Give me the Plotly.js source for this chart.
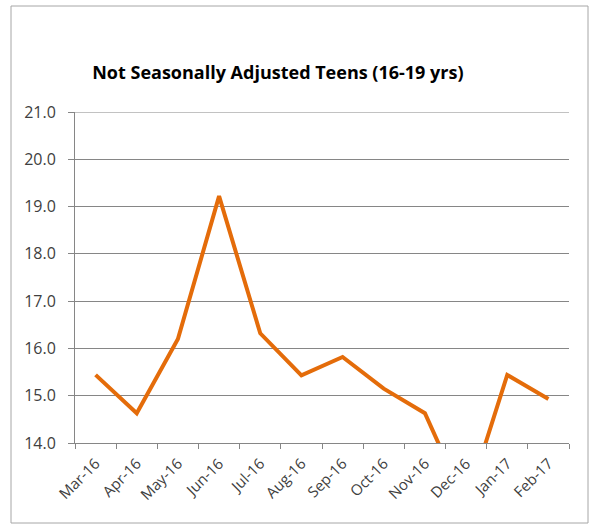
<!DOCTYPE html>
<html>
<head>
<meta charset="utf-8">
<script src="https://cdn.plot.ly/plotly-3.0.1.min.js"></script>
<style>html,body{margin:0;padding:0;background:#fff;}#chart{width:590px;height:525px;}</style>
</head>
<body>
<div id="chart"></div>
<script>
var months = ["Mar-16","Apr-16","May-16","Jun-16","Jul-16","Aug-16","Sep-16","Oct-16","Nov-16","Dec-16","Jan-17","Feb-17"];
var teenRate = [15.44, 14.63, 16.2, 19.22, 16.32, 15.43, 15.82, 15.15, 14.63, 12.7, 15.44, 14.93];
var yTicks = [14,15,16,17,18,19,20,21];
var yTickText = ["14.0","15.0","16.0","17.0","18.0","19.0","20.0","21.0"];

var L = 75, R = 21, T = 112, B = 82, W = 590, H = 525;
var pw = W - L - R, ph = H - T - B;
function px(x){ return (x - L) / pw; }
function py(y){ return (H - B - y) / ph; }

var trace = {
  x: months, y: teenRate, type: "scatter", mode: "lines",
  line: {color: "#E46C0A", width: 4, shape: "linear"},
  hoverinfo: "x+y"
};

var layout = {
  width: W, height: H,
  margin: {l: L, r: R, t: T, b: B, pad: 0},
  paper_bgcolor: "#ffffff", plot_bgcolor: "#ffffff",
  showlegend: false,
  font: {family: "Open Sans, sans-serif", color: "#404040", size: 15},
  title: {
    text: "<b>Not Seasonally Adjusted Teens (16-19 yrs)</b>",
    font: {family: "Open Sans, sans-serif", size: 18, color: "#000000"},
    xref: "container", yref: "container", x: 0.471, y: 1 - 73/525,
    xanchor: "center", yanchor: "middle"
  },
  xaxis: {
    type: "category", tickson: "boundaries", range: [-0.5, months.length - 0.5],
    ticks: "outside", ticklen: 5, tickcolor: "#868686",
    showline: true, linecolor: "#868686", linewidth: 1,
    showgrid: false, zeroline: false,
    tickangle: -45, tickfont: {size: 15, color: "#404040"},
    ticklabelstandoff: 5,
    fixedrange: true
  },
  yaxis: {
    range: [14, 21], tickvals: yTicks, ticktext: yTickText,
    ticks: "outside", ticklen: 6, tickcolor: "#868686",
    showline: true, linecolor: "#868686", linewidth: 1,
    showgrid: true, gridcolor: "#868686", gridwidth: 1,
    zeroline: false, tickfont: {size: 16, color: "#404040"},
    ticklabelstandoff: 9,
    fixedrange: true
  },
  shapes: [{
    type: "rect", xref: "paper", yref: "paper",
    x0: px(11), x1: px(588), y0: py(523), y1: py(6),
    line: {color: "#A6A6A6", width: 1}, fillcolor: "rgba(0,0,0,0)", layer: "below"
  }, {
    type: "line", xref: "paper", yref: "y",
    x0: 0, x1: 1, y0: yTicks[yTicks.length - 1], y1: yTicks[yTicks.length - 1],
    line: {color: "#868686", width: 1}, layer: "below"
  }]
};

Plotly.newPlot("chart", [trace], layout, {displayModeBar: false, staticPlot: true});
</script>
</body>
</html>
